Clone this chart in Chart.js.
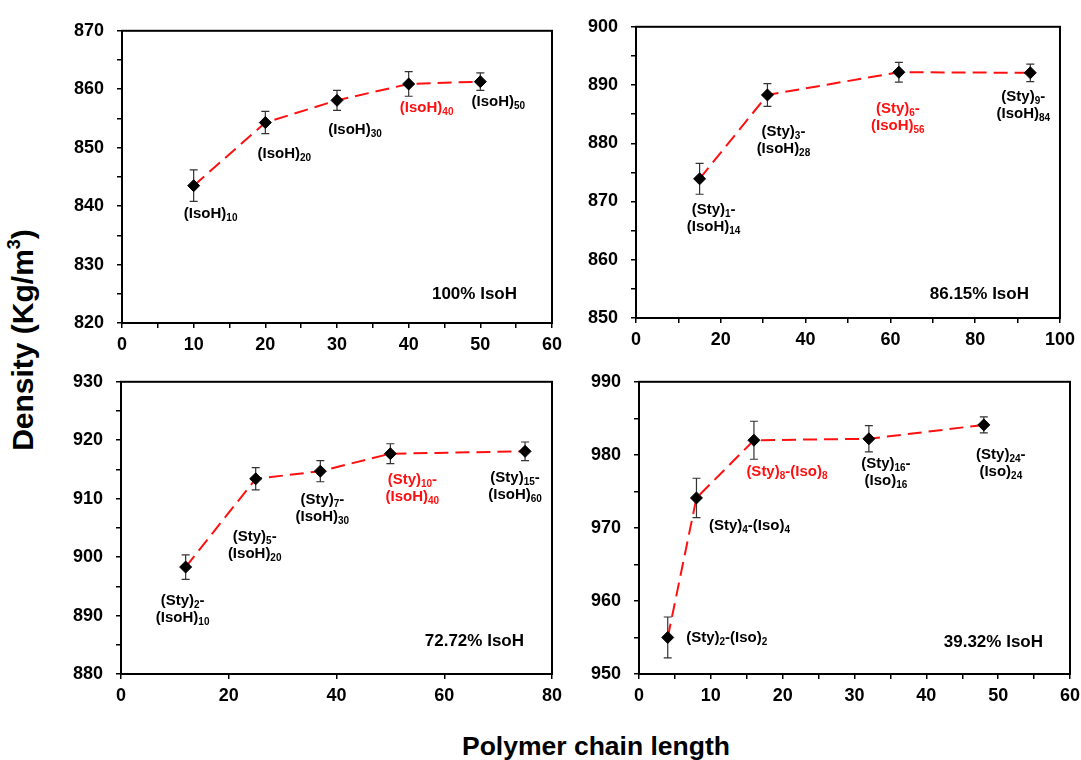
<!DOCTYPE html>
<html>
<head>
<meta charset="utf-8">
<script src="https://cdn.jsdelivr.net/npm/chart.js@4.4.1/dist/chart.umd.min.js"></script>
<style>
    body { margin: 0; width: 1081px; height: 760px; background: #fff; overflow: hidden; position: relative; }
    canvas { position: absolute; }
    .title { position: absolute; font-family: "Liberation Sans", Arial, sans-serif; font-weight: bold; color: #000; white-space: nowrap; transform: translate(-50%, -50%); }
    #ytitle { left: 22px; top: 340px; font-size: 30px; transform: translate(-50%, -50%) rotate(-90deg); }
    #xtitle { left: 596px; top: 746px; font-size: 26.5px; }
    sup { font-size: 0.6em; vertical-align: 0.75em; }
</style>
</head>
<body>
<canvas id="c1"></canvas>
<canvas id="c2"></canvas>
<canvas id="c3"></canvas>
<canvas id="c4"></canvas>
<div class="title" id="ytitle">Density (Kg/m<sup>3</sup>)</div>
<div class="title" id="xtitle">Polymer chain length</div>

<script>
// --- ДАННЫЕ ---
// 100% IsoH
const x1 = [10, 20, 30, 40, 50];
const y1 = [843.5, 854.3, 858.1, 860.9, 861.3];
const err1 = [2.7, 1.9, 1.7, 2.1, 1.5];
const names1 = [['(IsoH)_10'], ['(IsoH)_20'], ['(IsoH)_30'], ['(IsoH)_40'], ['(IsoH)_50']];

// 86.15% IsoH
const x2 = [15, 31, 62, 93];
const y2 = [873.9, 888.3, 892.2, 892.1];
const err2 = [2.65, 1.95, 1.7, 1.5];
const names2 = [['(Sty)_1-', '(IsoH)_14'], ['(Sty)_3-', '(IsoH)_28'], ['(Sty)_6-', '(IsoH)_56'], ['(Sty)_9-', '(IsoH)_84']];

// 72.72% IsoH
const x3 = [12, 25, 37, 50, 75];
const y3 = [898.3, 913.4, 914.7, 917.7, 918.1];
const err3 = [2.1, 1.9, 1.8, 1.7, 1.6];
const names3 = [['(Sty)_2-', '(IsoH)_10'], ['(Sty)_5-', '(IsoH)_20'], ['(Sty)_7-', '(IsoH)_30'], ['(Sty)_10-', '(IsoH)_40'], ['(Sty)_15-', '(IsoH)_60']];

// 39.32% IsoH
const x4 = [4, 8, 16, 32, 48];
const y4 = [955.0, 974.1, 982.0, 982.2, 984.1];
const err4 = [2.8, 2.7, 2.6, 1.8, 1.1];
const names4 = [['(Sty)_2-(Iso)_2'], ['(Sty)_4-(Iso)_4'], ['(Sty)_8-(Iso)_8'], ['(Sty)_16-', '(Iso)_16'], ['(Sty)_24-', '(Iso)_24']];

// Подписи осей (остальные деления - без текста)
const xTicks1 = [0, 10, 20, 30, 40, 50, 60];
const yTicks1 = [820, 830, 840, 850, 860, 870];
const xTicks2 = [0, 20, 40, 60, 80, 100];
const yTicks2 = [850, 860, 870, 880, 890, 900];
const xTicks3 = [0, 20, 40, 60, 80];
const yTicks3 = [880, 890, 900, 910, 920, 930];
const xTicks4 = [0, 10, 20, 30, 40, 50, 60];
const yTicks4 = [950, 960, 970, 980, 990];

const FONT = '"Liberation Sans", Arial, sans-serif';
const RED = '#ff1010';

// --- Панели: положение области графика и смещения подписей ---
const panels = [
    {
        id: 'c1', xs: x1, ys: y1, errs: err1, names: names1, red: 3, corner: '100% IsoH',
        xTicks: xTicks1, yTicks: yTicks1, xStep: 5, yStep: 5,
        area: { L: 122, R: 552, T: 27, B: 323 },
        offsets: [[17, 27], [19, 30], [18, 29], [18, 23], [18, 19]],
        cornerPos: [35, 29]
    },
    {
        id: 'c2', xs: x2, ys: y2, errs: err2, names: names2, red: 2, corner: '86.15% IsoH',
        xTicks: xTicks2, yTicks: yTicks2, xStep: 10, yStep: 5,
        area: { L: 636, R: 1063, T: 23, B: 318 },
        offsets: [[14, 30], [16, 36], [-1, 36], [-7, 23]],
        cornerPos: [31, 24]
    },
    {
        id: 'c3', xs: x3, ys: y3, errs: err3, names: names3, red: 3, corner: '72.72% IsoH',
        xTicks: xTicks3, yTicks: yTicks3, xStep: 20, yStep: 5,
        area: { L: 121, R: 552, T: 378, B: 674 },
        offsets: [[-3, 33], [-1, 57], [2, 28], [22, 25], [-10, 26]],
        cornerPos: [28, 33]
    },
    {
        id: 'c4', xs: x4, ys: y4, errs: err4, names: names4, red: 2, corner: '39.32% IsoH',
        xTicks: xTicks4, yTicks: yTicks4, xStep: 5, yStep: 5,
        area: { L: 639, R: 1070, T: 378, B: 674 },
        offsets: [[59, 0], [53, 27], [33, 31], [17, 24], [17, 29]],
        cornerPos: [27, 32]
    }
];

const Y_AXIS_W = 72;
const X_AXIS_H = 36;
const PAD_TOP = 20;
const PAD_RIGHT = 18;

// Текст с нижними индексами: "(Sty)_10-" -> (Sty) + индекс 10 + "-"
function drawRich(ctx, text, cx, cy, color) {
    let parts = text.split(/_(\d+)/);
    let mainFont = 'bold 15px ' + FONT;
    let subFont = 'bold 10px ' + FONT;
    let total = 0;
    parts.forEach((p, i) => {
        ctx.font = (i % 2) ? subFont : mainFont;
        total += ctx.measureText(p).width;
    });
    let x = cx - total / 2;
    let base = cy + 5;
    ctx.fillStyle = color;
    ctx.textAlign = 'left';
    ctx.textBaseline = 'alphabetic';
    parts.forEach((p, i) => {
        ctx.font = (i % 2) ? subFont : mainFont;
        ctx.fillText(p, x, (i % 2) ? base + 3 : base);
        x += ctx.measureText(p).width;
    });
}

// Рамка, планки погрешностей и подписи
const decorPlugin = {
    id: 'decor',
    beforeDatasetsDraw(chart) {
        const cfg = chart.options.plugins.decor;
        const ctx = chart.ctx;
        const ca = chart.chartArea;
        const yScale = chart.scales.y;
        const meta = chart.getDatasetMeta(0);

        ctx.save();
        // рамка вокруг области
        ctx.strokeStyle = '#000';
        ctx.lineWidth = 2;
        ctx.strokeRect(ca.left, ca.top, ca.right - ca.left, ca.bottom - ca.top);

        // планки погрешностей
        ctx.strokeStyle = '#333';
        ctx.lineWidth = 1.2;
        meta.data.forEach((pt, i) => {
            let top = yScale.getPixelForValue(cfg.ys[i] + cfg.errs[i]);
            let bot = yScale.getPixelForValue(cfg.ys[i] - cfg.errs[i]);
            ctx.beginPath();
            ctx.moveTo(pt.x, top); ctx.lineTo(pt.x, bot);
            ctx.moveTo(pt.x - 4, top); ctx.lineTo(pt.x + 4, top);
            ctx.moveTo(pt.x - 4, bot); ctx.lineTo(pt.x + 4, bot);
            ctx.stroke();
        });
        ctx.restore();
    },
    afterDatasetsDraw(chart) {
        const cfg = chart.options.plugins.decor;
        const ctx = chart.ctx;
        const ca = chart.chartArea;
        const meta = chart.getDatasetMeta(0);

        ctx.save();
        meta.data.forEach((pt, i) => {
            let color = (i === cfg.red) ? RED : '#000';
            let off = cfg.offsets[i];
            cfg.names[i].forEach((line, k) => {
                drawRich(ctx, line, pt.x + off[0], pt.y + off[1] + k * 17, color);
            });
        });

        // подпись в углу
        ctx.font = 'bold 17px ' + FONT;
        ctx.fillStyle = '#000';
        ctx.textAlign = 'right';
        ctx.textBaseline = 'middle';
        ctx.fillText(cfg.corner, ca.right - cfg.cornerPos[0], ca.bottom - cfg.cornerPos[1]);
        ctx.restore();
    }
};

function makeAxis(list, step, fit) {
    return {
        type: 'linear',
        min: list[0],
        max: list[list.length - 1],
        ticks: {
            stepSize: step,
            autoSkip: false,
            maxRotation: 0,
            color: '#000',
            font: { family: FONT, size: 18, weight: 'bold' },
            callback: (v) => list.includes(v) ? String(v) : ''
        },
        grid: { drawOnChartArea: false, drawTicks: true, tickLength: 5, color: '#000', lineWidth: 1.5 },
        border: { color: '#000', width: 2 },
        afterFit: fit
    };
}

panels.forEach(p => {
    const canvas = document.getElementById(p.id);
    const w = Y_AXIS_W + (p.area.R - p.area.L) + PAD_RIGHT;
    const h = PAD_TOP + (p.area.B - p.area.T) + X_AXIS_H;
    canvas.width = w;
    canvas.height = h;
    canvas.style.left = (p.area.L - Y_AXIS_W) + 'px';
    canvas.style.top = (p.area.T - PAD_TOP) + 'px';

    let xAxis = makeAxis(p.xTicks, p.xStep, s => { s.height = X_AXIS_H; });
    xAxis.ticks.padding = 6;
    let yAxis = makeAxis(p.yTicks, p.yStep, s => { s.width = Y_AXIS_W; });
    yAxis.ticks.padding = 13;

    new Chart(canvas.getContext('2d'), {
        type: 'scatter',
        data: {
            datasets: [{
                data: p.xs.map((x, i) => ({ x: x, y: p.ys[i] })),
                showLine: true,
                borderColor: RED,
                borderWidth: 2,
                borderDash: [14, 7],
                pointStyle: 'rectRot',
                pointRadius: 6,
                pointBackgroundColor: '#000',
                pointBorderColor: '#000',
                pointBorderWidth: 1
            }]
        },
        options: {
            responsive: false,
            animation: false,
            layout: { padding: { top: PAD_TOP, right: PAD_RIGHT, left: 0, bottom: 0 } },
            plugins: {
                legend: { display: false },
                tooltip: { enabled: false },
                decor: p
            },
            scales: { x: xAxis, y: yAxis }
        },
        plugins: [decorPlugin]
    });
});
</script>
</body>
</html>
